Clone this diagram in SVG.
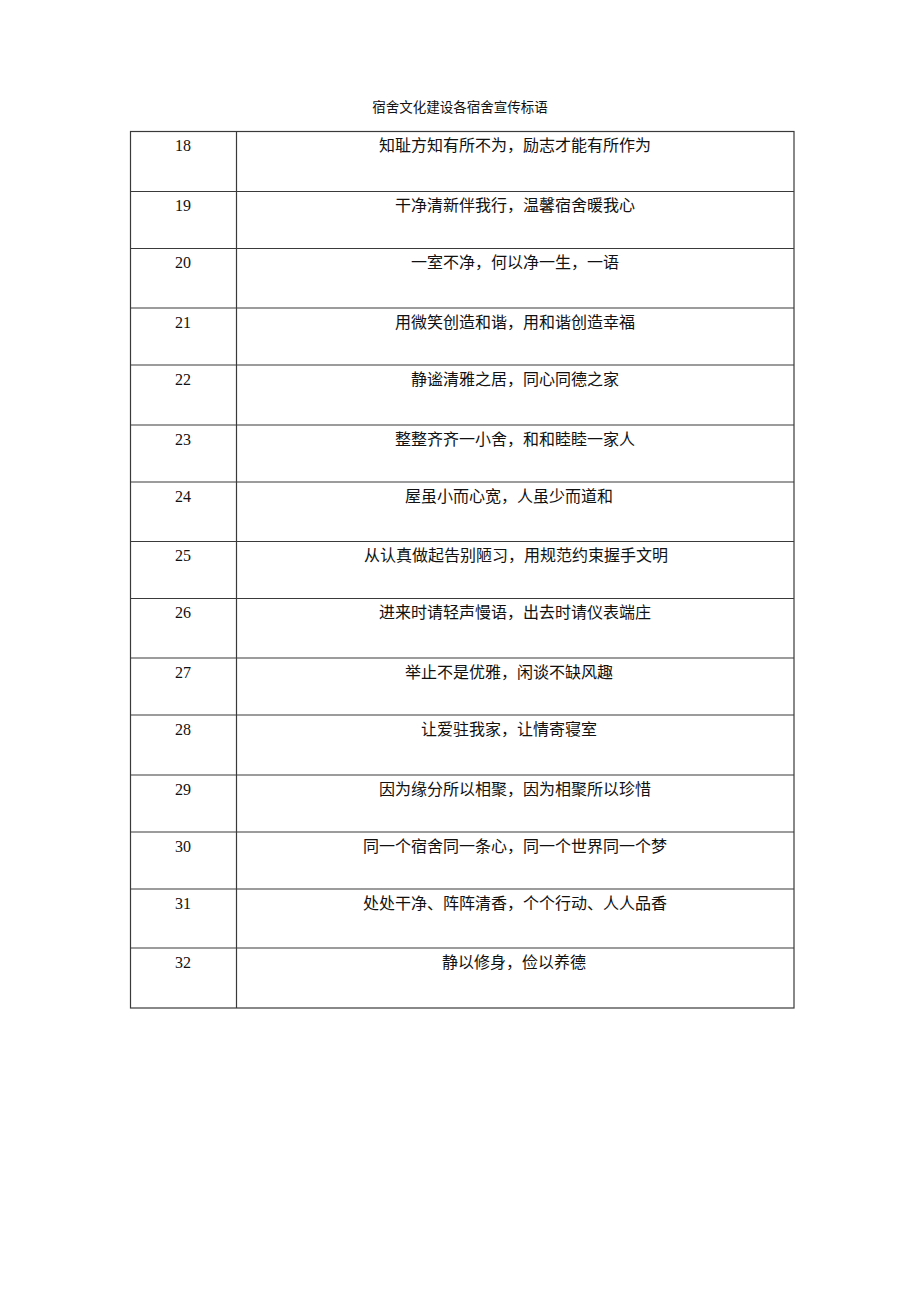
<svg xmlns="http://www.w3.org/2000/svg" width="920" height="1302" viewBox="0 0 920 1302">
<style>
.ln{stroke:#3a3a3a;stroke-width:1.2;fill:none}
.num{font-family:"Liberation Serif",serif;font-size:16px;fill:#111;text-anchor:middle}
.txt{font-family:"Liberation Serif","Noto Sans CJK SC",serif;font-size:16px;fill:#111;text-anchor:middle}
.title{font-family:"Liberation Serif","Noto Sans CJK SC",serif;font-size:13.5px;fill:#111;text-anchor:middle}
</style>
<rect width="920" height="1302" fill="#fff"/>
<text class="title" x="460" y="112">宿舍文化建设各宿舍宣传标语</text>
<g id="table">
<rect class="ln" x="130.5" y="131.5" width="663.5" height="876.5"/>
<line class="ln" x1="236.5" y1="131.5" x2="236.5" y2="1008"/>
<path class="ln" d="M130.5 191.5H794M130.5 248.5H794M130.5 308H794M130.5 365H794M130.5 425H794M130.5 482H794M130.5 541.5H794M130.5 598.5H794M130.5 658H794M130.5 715H794M130.5 775H794M130.5 832H794M130.5 889H794M130.5 948H794"/>
</g>
<g id="r18"><text class="num" x="183" y="151">18</text><text class="txt" x="515" y="151">知耻方知有所不为，励志才能有所作为</text></g>
<g id="r19"><text class="num" x="183" y="211">19</text><text class="txt" x="515" y="211">干净清新伴我行，温馨宿舍暖我心</text></g>
<g id="r20"><text class="num" x="183" y="268">20</text><text class="txt" x="515" y="268">一室不净，何以净一生，一语</text></g>
<g id="r21"><text class="num" x="183" y="327.5">21</text><text class="txt" x="515" y="327.5">用微笑创造和谐，用和谐创造幸福</text></g>
<g id="r22"><text class="num" x="183" y="384.5">22</text><text class="txt" x="515" y="384.5">静谧清雅之居，同心同德之家</text></g>
<g id="r23"><text class="num" x="183" y="444.5">23</text><text class="txt" x="515" y="444.5">整整齐齐一小舍，和和睦睦一家人</text></g>
<g id="r24"><text class="num" x="183" y="501.5">24</text><text class="txt" x="509" y="501.5">屋虽小而心宽，人虽少而道和</text></g>
<g id="r25"><text class="num" x="183" y="561">25</text><text class="txt" x="516" y="561">从认真做起告别陋习，用规范约束握手文明</text></g>
<g id="r26"><text class="num" x="183" y="618">26</text><text class="txt" x="515" y="618">进来时请轻声慢语，出去时请仪表端庄</text></g>
<g id="r27"><text class="num" x="183" y="677.5">27</text><text class="txt" x="509" y="677.5">举止不是优雅，闲谈不缺风趣</text></g>
<g id="r28"><text class="num" x="183" y="734.5">28</text><text class="txt" x="509" y="734.5">让爱驻我家，让情寄寝室</text></g>
<g id="r29"><text class="num" x="183" y="794.5">29</text><text class="txt" x="515" y="794.5">因为缘分所以相聚，因为相聚所以珍惜</text></g>
<g id="r30"><text class="num" x="183" y="851.5">30</text><text class="txt" x="515" y="851.5">同一个宿舍同一条心，同一个世界同一个梦</text></g>
<g id="r31"><text class="num" x="183" y="908.5">31</text><text class="txt" x="515" y="908.5">处处干净、阵阵清香，个个行动、人人品香</text></g>
<g id="r32"><text class="num" x="183" y="967.5">32</text><text class="txt" x="514" y="967.5">静以修身，俭以养德</text></g>
</svg>
